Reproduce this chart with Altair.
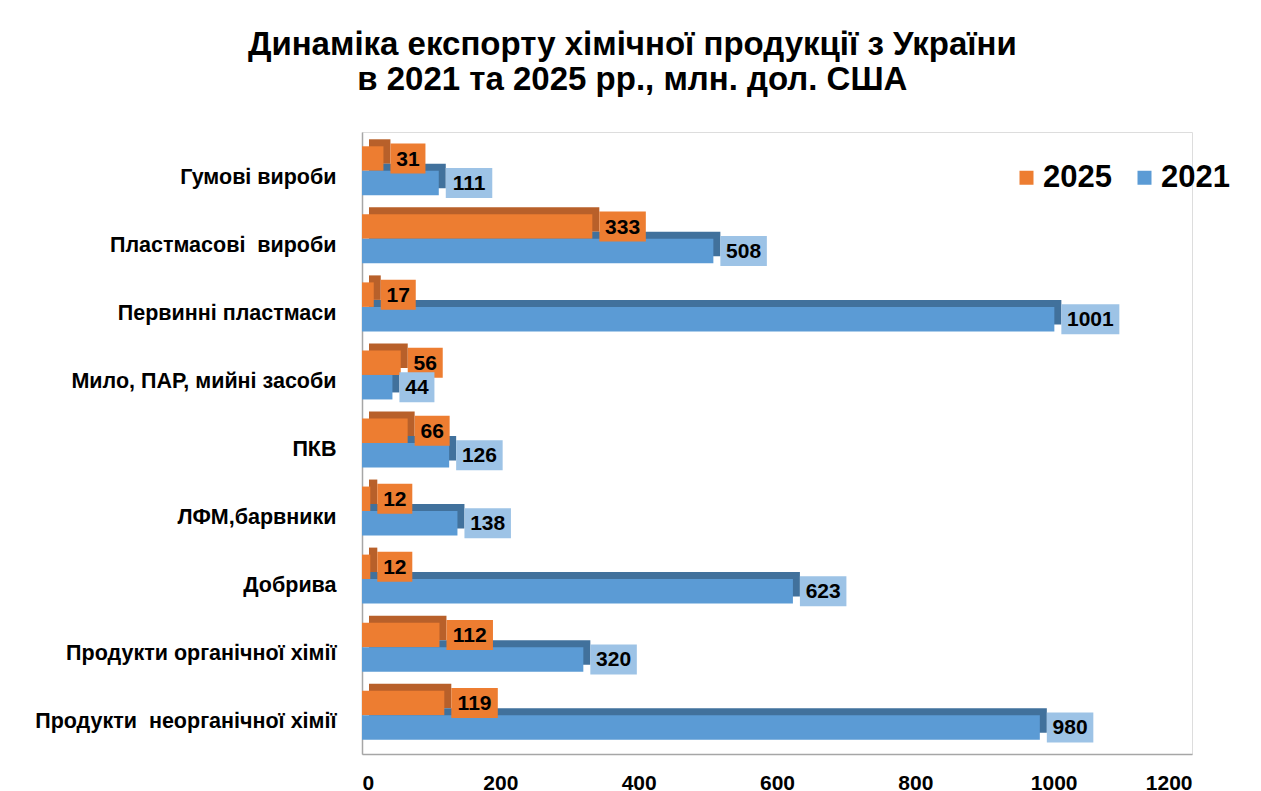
import altair as alt
import pandas as pd

categories = [
    "Гумові вироби",
    "Пластмасові \u00a0вироби",
    "Первинні пластмаси",
    "Мило, ПАР, мийні засоби",
    "ПКВ",
    "ЛФМ,барвники",
    "Добрива",
    "Продукти органічної хімії",
    "Продукти \u00a0неорганічної хімії",
]
v2025 = [31, 333, 17, 56, 66, 12, 12, 112, 119]
v2021 = [111, 508, 1001, 44, 126, 138, 623, 320, 980]
series = ["2025", "2021"]
x_ticks = [0, 200, 400, 600, 800, 1000, 1200]

rows = []
for c, a, b in zip(categories, v2025, v2021):
    rows.append({"category": c, "series": "2025", "value": a, "label": str(a), "len": len(str(a))})
    rows.append({"category": c, "series": "2021", "value": b, "label": str(b), "len": len(str(b))})
df = pd.DataFrame(rows)

FONT = "Liberation Sans"
front_colors = {"2025": "#ED7D31", "2021": "#5B9BD5"}
depth_colors = {"2025": "#B8602A", "2021": "#41719C"}
box_colors = {"2025": "#ED7D31", "2021": "#9DC3E6"}
half = {"2025": -12.25, "2021": 12.25}
BAR_H = 24.5
DEPTH = 7

y_enc = alt.Y(
    "category:N",
    scale=alt.Scale(domain=categories, paddingInner=0.28, paddingOuter=0.21),
    axis=alt.Axis(
        title=None,
        labelFont=FONT,
        labelFontSize=21.5,
        labelFontWeight="bold",
        labelColor="black",
        labelPadding=26,
        labelOffset=7,
        ticks=False,
        domainColor="#A6A6A6",
        domainWidth=1.5,
        labelLimit=500,
    ),
)
x_scale = alt.Scale(domain=[0, 1200], nice=False)
x_enc = alt.X(
    "value:Q",
    scale=x_scale,
    axis=alt.Axis(
        title=None,
        values=x_ticks,
        format="d",
        grid=False,
        ticks=False,
        labelFont=FONT,
        labelFontSize=21,
        labelFontWeight="bold",
        labelColor="black",
        labelPadding=18,
        domainColor="#A6A6A6",
        domainWidth=1.5,
    ),
)

base = alt.Chart(df)
legend = alt.Legend(
    title=None,
    orient="none",
    legendX=649,
    legendY=30,
    direction="horizontal",
    symbolType="square",
    symbolSize=196,
    symbolStrokeWidth=0,
    labelFont=FONT,
    labelFontSize=31,
    labelFontWeight="bold",
    labelColor="black",
    labelOffset=1,
    columnPadding=17,
)

depth_layers, front_layers, box_layers, text_layers = [], [], [], []
for s in series:
    sub = base.transform_filter(alt.datum.series == s)
    off = half[s]
    depth_layers.append(
        sub.mark_bar(height=BAR_H, yOffset=off - DEPTH, xOffset=DEPTH, x2Offset=4, color=depth_colors[s]).encode(
            x=x_enc, y=y_enc
        )
    )
    front_layers.append(
        sub.mark_bar(height=BAR_H, yOffset=off).encode(
            x=x_enc,
            y=y_enc,
            color=alt.Color("series:N", scale=alt.Scale(domain=series, range=[front_colors[k] for k in series]), legend=legend),
        )
    )
    for L in [2, 3, 4]:
        w = 11.5 * L + 12
        sub2 = sub.transform_filter(alt.datum.len == L)
        box_layers.append(
            sub2.mark_bar(height=30, yOffset=off, xOffset=DEPTH, x2Offset=DEPTH + w, color=box_colors[s]).encode(
                x=alt.X("value:Q", scale=x_scale),
                x2="value:Q",
                y=y_enc,
            )
        )
        text_layers.append(
            sub2.mark_text(
                align="center",
                baseline="middle",
                dx=DEPTH + w / 2,
                dy=off + 1,
                font=FONT,
                fontSize=21,
                fontWeight="bold",
                color="black",
            ).encode(
                x=alt.X("value:Q", scale=x_scale),
                y=y_enc,
                text="label:N",
            )
        )

chart = (
    alt.layer(*(depth_layers + front_layers + box_layers + text_layers))
    .properties(
        width=830,
        height=622,
        padding={"left": 26, "top": 21, "right": 10, "bottom": 5},
        title=alt.TitleParams(
            ["Динаміка експорту хімічної продукції з України", "в 2021 та 2025 рр., млн. дол. США"],
            font=FONT,
            fontSize=33,
            fontWeight="bold",
            color="black",
            anchor="middle",
            frame="bounds",
            lineHeight=35,
            offset=35,
        ),
    )
    .configure_view(stroke=None)
    .configure(background="white")
)

chart.save("out.html", embed_options={"renderer": "svg", "actions": False})
